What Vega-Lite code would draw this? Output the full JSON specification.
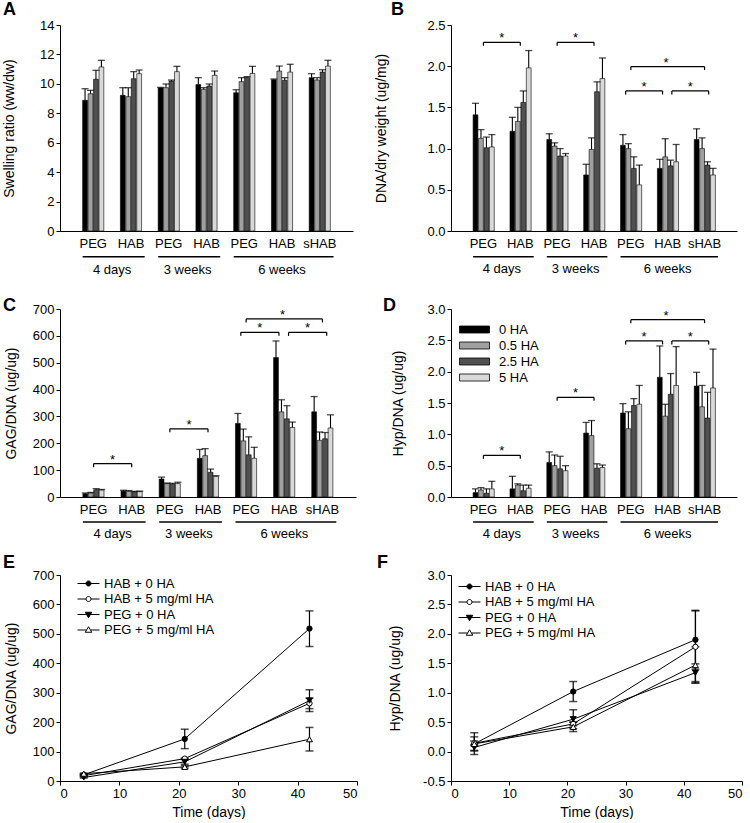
{
 "$schema": "https://vega.github.io/schema/vega-lite/v6.json",
 "padding": {"left": 2, "top": 1, "right": 0, "bottom": 0},
 "background": "white",
 "columns": 2,
 "spacing": {"row": 78, "column": 94},
 "bounds": "flush",
 "resolve": {"scale": {"fill": "independent", "shape": "independent", "stroke": "independent"}, "legend": {"fill": "independent", "shape": "independent", "stroke": "independent"}},
 "datasets": {
  "G": [
   {"g": "4 days", "a": "4 days|PEG", "b": "4 days|HAB", "k": "p"},
   {"g": "3 weeks", "a": "3 weeks|PEG", "b": "3 weeks|HAB", "k": "p"},
   {"g": "6 weeks", "a": "6 weeks|PEG", "b": "6 weeks|sHAB", "k": "T"}
  ],
  "A": [
   {"c": "4 days|PEG", "ha": "0 HA", "v": 8.88, "hi": 9.67}, {"c": "4 days|PEG", "ha": "0.5 HA", "v": 9.33, "hi": 9.56}, {"c": "4 days|PEG", "ha": "2.5 HA", "v": 10.31, "hi": 10.92}, {"c": "4 days|PEG", "ha": "5 HA", "v": 11.15, "hi": 11.6},
   {"c": "4 days|HAB", "ha": "0 HA", "v": 9.22, "hi": 9.74}, {"c": "4 days|HAB", "ha": "0.5 HA", "v": 9.13, "hi": 9.74}, {"c": "4 days|HAB", "ha": "2.5 HA", "v": 10.35, "hi": 10.83}, {"c": "4 days|HAB", "ha": "5 HA", "v": 10.69, "hi": 10.94},
   {"c": "3 weeks|PEG", "ha": "0 HA", "v": 9.72, "hi": 9.76}, {"c": "3 weeks|PEG", "ha": "0.5 HA", "v": 9.74, "hi": 9.99}, {"c": "3 weeks|PEG", "ha": "2.5 HA", "v": 10.19, "hi": 10.26}, {"c": "3 weeks|PEG", "ha": "5 HA", "v": 10.83, "hi": 11.19},
   {"c": "3 weeks|HAB", "ha": "0 HA", "v": 9.95, "hi": 10.42}, {"c": "3 weeks|HAB", "ha": "0.5 HA", "v": 9.63, "hi": 9.74}, {"c": "3 weeks|HAB", "ha": "2.5 HA", "v": 9.85, "hi": 9.99}, {"c": "3 weeks|HAB", "ha": "5 HA", "v": 10.58, "hi": 10.87},
   {"c": "6 weeks|PEG", "ha": "0 HA", "v": 9.4, "hi": 9.6}, {"c": "6 weeks|PEG", "ha": "0.5 HA", "v": 10.15, "hi": 10.42}, {"c": "6 weeks|PEG", "ha": "2.5 HA", "v": 10.44, "hi": 10.49}, {"c": "6 weeks|PEG", "ha": "5 HA", "v": 10.71, "hi": 11.19},
   {"c": "6 weeks|HAB", "ha": "0 HA", "v": 10.28, "hi": 10.33}, {"c": "6 weeks|HAB", "ha": "0.5 HA", "v": 10.87, "hi": 11.21}, {"c": "6 weeks|HAB", "ha": "2.5 HA", "v": 10.24, "hi": 10.42}, {"c": "6 weeks|HAB", "ha": "5 HA", "v": 10.8, "hi": 11.33},
   {"c": "6 weeks|sHAB", "ha": "0 HA", "v": 10.42, "hi": 10.69}, {"c": "6 weeks|sHAB", "ha": "0.5 HA", "v": 10.26, "hi": 10.42}, {"c": "6 weeks|sHAB", "ha": "2.5 HA", "v": 10.8, "hi": 10.96}, {"c": "6 weeks|sHAB", "ha": "5 HA", "v": 11.21, "hi": 11.6}
  ],
  "B": [
   {"c": "4 days|PEG", "ha": "0 HA", "v": 1.41, "hi": 1.55}, {"c": "4 days|PEG", "ha": "0.5 HA", "v": 1.125, "hi": 1.23}, {"c": "4 days|PEG", "ha": "2.5 HA", "v": 1.01, "hi": 1.14}, {"c": "4 days|PEG", "ha": "5 HA", "v": 1.02, "hi": 1.17},
   {"c": "4 days|HAB", "ha": "0 HA", "v": 1.21, "hi": 1.38}, {"c": "4 days|HAB", "ha": "0.5 HA", "v": 1.33, "hi": 1.5}, {"c": "4 days|HAB", "ha": "2.5 HA", "v": 1.56, "hi": 1.7}, {"c": "4 days|HAB", "ha": "5 HA", "v": 1.98, "hi": 2.19},
   {"c": "3 weeks|PEG", "ha": "0 HA", "v": 1.11, "hi": 1.18}, {"c": "3 weeks|PEG", "ha": "0.5 HA", "v": 1.03, "hi": 1.07}, {"c": "3 weeks|PEG", "ha": "2.5 HA", "v": 0.91, "hi": 1.0}, {"c": "3 weeks|PEG", "ha": "5 HA", "v": 0.91, "hi": 0.94},
   {"c": "3 weeks|HAB", "ha": "0 HA", "v": 0.68, "hi": 0.81}, {"c": "3 weeks|HAB", "ha": "0.5 HA", "v": 0.99, "hi": 1.13}, {"c": "3 weeks|HAB", "ha": "2.5 HA", "v": 1.69, "hi": 1.81}, {"c": "3 weeks|HAB", "ha": "5 HA", "v": 1.85, "hi": 2.1},
   {"c": "6 weeks|PEG", "ha": "0 HA", "v": 1.04, "hi": 1.17}, {"c": "6 weeks|PEG", "ha": "0.5 HA", "v": 1.0, "hi": 1.06}, {"c": "6 weeks|PEG", "ha": "2.5 HA", "v": 0.76, "hi": 0.9}, {"c": "6 weeks|PEG", "ha": "5 HA", "v": 0.56, "hi": 0.8},
   {"c": "6 weeks|HAB", "ha": "0 HA", "v": 0.76, "hi": 0.87}, {"c": "6 weeks|HAB", "ha": "0.5 HA", "v": 0.9, "hi": 1.12}, {"c": "6 weeks|HAB", "ha": "2.5 HA", "v": 0.79, "hi": 0.86}, {"c": "6 weeks|HAB", "ha": "5 HA", "v": 0.84, "hi": 1.05},
   {"c": "6 weeks|sHAB", "ha": "0 HA", "v": 1.11, "hi": 1.24}, {"c": "6 weeks|sHAB", "ha": "0.5 HA", "v": 1.0, "hi": 1.13}, {"c": "6 weeks|sHAB", "ha": "2.5 HA", "v": 0.8, "hi": 0.84}, {"c": "6 weeks|sHAB", "ha": "5 HA", "v": 0.68, "hi": 0.76}
  ],
  "C": [
   {"c": "4 days|PEG", "ha": "0 HA", "v": 12, "hi": 15}, {"c": "4 days|PEG", "ha": "0.5 HA", "v": 15, "hi": 17}, {"c": "4 days|PEG", "ha": "2.5 HA", "v": 27, "hi": 31}, {"c": "4 days|PEG", "ha": "5 HA", "v": 26, "hi": 28},
   {"c": "4 days|HAB", "ha": "0 HA", "v": 22, "hi": 25}, {"c": "4 days|HAB", "ha": "0.5 HA", "v": 21, "hi": 24}, {"c": "4 days|HAB", "ha": "2.5 HA", "v": 19, "hi": 21}, {"c": "4 days|HAB", "ha": "5 HA", "v": 20, "hi": 22},
   {"c": "3 weeks|PEG", "ha": "0 HA", "v": 67, "hi": 74}, {"c": "3 weeks|PEG", "ha": "0.5 HA", "v": 50, "hi": 52}, {"c": "3 weeks|PEG", "ha": "2.5 HA", "v": 48, "hi": 51}, {"c": "3 weeks|PEG", "ha": "5 HA", "v": 50, "hi": 55},
   {"c": "3 weeks|HAB", "ha": "0 HA", "v": 144, "hi": 177}, {"c": "3 weeks|HAB", "ha": "0.5 HA", "v": 154, "hi": 180}, {"c": "3 weeks|HAB", "ha": "2.5 HA", "v": 92, "hi": 104}, {"c": "3 weeks|HAB", "ha": "5 HA", "v": 77, "hi": 79},
   {"c": "6 weeks|PEG", "ha": "0 HA", "v": 274, "hi": 311}, {"c": "6 weeks|PEG", "ha": "0.5 HA", "v": 209, "hi": 253}, {"c": "6 weeks|PEG", "ha": "2.5 HA", "v": 157, "hi": 224}, {"c": "6 weeks|PEG", "ha": "5 HA", "v": 144, "hi": 185},
   {"c": "6 weeks|HAB", "ha": "0 HA", "v": 519, "hi": 581}, {"c": "6 weeks|HAB", "ha": "0.5 HA", "v": 317, "hi": 362}, {"c": "6 weeks|HAB", "ha": "2.5 HA", "v": 291, "hi": 340}, {"c": "6 weeks|HAB", "ha": "5 HA", "v": 259, "hi": 279},
   {"c": "6 weeks|sHAB", "ha": "0 HA", "v": 317, "hi": 374}, {"c": "6 weeks|sHAB", "ha": "0.5 HA", "v": 211, "hi": 242}, {"c": "6 weeks|sHAB", "ha": "2.5 HA", "v": 217, "hi": 240}, {"c": "6 weeks|sHAB", "ha": "5 HA", "v": 257, "hi": 306}
  ],
  "D": [
   {"c": "4 days|PEG", "ha": "0 HA", "v": 0.07, "hi": 0.13}, {"c": "4 days|PEG", "ha": "0.5 HA", "v": 0.11, "hi": 0.15}, {"c": "4 days|PEG", "ha": "2.5 HA", "v": 0.06, "hi": 0.13}, {"c": "4 days|PEG", "ha": "5 HA", "v": 0.13, "hi": 0.25},
   {"c": "4 days|HAB", "ha": "0 HA", "v": 0.13, "hi": 0.33}, {"c": "4 days|HAB", "ha": "0.5 HA", "v": 0.19, "hi": 0.21}, {"c": "4 days|HAB", "ha": "2.5 HA", "v": 0.1, "hi": 0.19}, {"c": "4 days|HAB", "ha": "5 HA", "v": 0.14, "hi": 0.19},
   {"c": "3 weeks|PEG", "ha": "0 HA", "v": 0.55, "hi": 0.72}, {"c": "3 weeks|PEG", "ha": "0.5 HA", "v": 0.5, "hi": 0.67}, {"c": "3 weeks|PEG", "ha": "2.5 HA", "v": 0.45, "hi": 0.65}, {"c": "3 weeks|PEG", "ha": "5 HA", "v": 0.42, "hi": 0.5},
   {"c": "3 weeks|HAB", "ha": "0 HA", "v": 1.02, "hi": 1.19}, {"c": "3 weeks|HAB", "ha": "0.5 HA", "v": 0.98, "hi": 1.22}, {"c": "3 weeks|HAB", "ha": "2.5 HA", "v": 0.46, "hi": 0.53}, {"c": "3 weeks|HAB", "ha": "5 HA", "v": 0.47, "hi": 0.51},
   {"c": "6 weeks|PEG", "ha": "0 HA", "v": 1.34, "hi": 1.49}, {"c": "6 weeks|PEG", "ha": "0.5 HA", "v": 1.09, "hi": 1.36}, {"c": "6 weeks|PEG", "ha": "2.5 HA", "v": 1.46, "hi": 1.57}, {"c": "6 weeks|PEG", "ha": "5 HA", "v": 1.48, "hi": 1.78},
   {"c": "6 weeks|HAB", "ha": "0 HA", "v": 1.91, "hi": 2.41}, {"c": "6 weeks|HAB", "ha": "0.5 HA", "v": 1.29, "hi": 1.48}, {"c": "6 weeks|HAB", "ha": "2.5 HA", "v": 1.64, "hi": 1.97}, {"c": "6 weeks|HAB", "ha": "5 HA", "v": 1.78, "hi": 2.4},
   {"c": "6 weeks|sHAB", "ha": "0 HA", "v": 1.77, "hi": 1.99}, {"c": "6 weeks|sHAB", "ha": "0.5 HA", "v": 1.44, "hi": 1.78}, {"c": "6 weeks|sHAB", "ha": "2.5 HA", "v": 1.26, "hi": 1.67}, {"c": "6 weeks|sHAB", "ha": "5 HA", "v": 1.74, "hi": 2.36}
  ],
  "brB": [
   {"a": "4 days|PEG", "b": "4 days|HAB", "lv": 2.29, "k": "p"},
   {"a": "3 weeks|PEG", "b": "3 weeks|HAB", "lv": 2.29, "k": "p"},
   {"a": "6 weeks|PEG", "b": "6 weeks|sHAB", "lv": 1.995, "k": "T"},
   {"a": "6 weeks|PEG", "b": "6 weeks|HAB", "lv": 1.7, "k": "L"},
   {"a": "6 weeks|HAB", "b": "6 weeks|sHAB", "lv": 1.7, "k": "R"}
  ],
  "brC": [
   {"a": "4 days|PEG", "b": "4 days|HAB", "lv": 124, "k": "p"},
   {"a": "3 weeks|PEG", "b": "3 weeks|HAB", "lv": 254, "k": "p"},
   {"a": "6 weeks|PEG", "b": "6 weeks|sHAB", "lv": 663, "k": "T"},
   {"a": "6 weeks|PEG", "b": "6 weeks|HAB", "lv": 613, "k": "L"},
   {"a": "6 weeks|HAB", "b": "6 weeks|sHAB", "lv": 613, "k": "R"}
  ],
  "brD": [
   {"a": "4 days|PEG", "b": "4 days|HAB", "lv": 0.665, "k": "p"},
   {"a": "3 weeks|PEG", "b": "3 weeks|HAB", "lv": 1.59, "k": "p"},
   {"a": "6 weeks|PEG", "b": "6 weeks|sHAB", "lv": 2.83, "k": "T"},
   {"a": "6 weeks|PEG", "b": "6 weeks|HAB", "lv": 2.49, "k": "L"},
   {"a": "6 weeks|HAB", "b": "6 weeks|sHAB", "lv": 2.49, "k": "R"}
  ],
  "E": [
   {"s": "HAB + 0 HA", "d": 4, "v": 21, "lo": 19, "hi": 23}, {"s": "HAB + 0 HA", "d": 21, "v": 143, "lo": 110, "hi": 176}, {"s": "HAB + 0 HA", "d": 42, "v": 518, "lo": 457, "hi": 578},
   {"s": "HAB + 5 mg/ml HA", "d": 4, "v": 18, "lo": 16, "hi": 20}, {"s": "HAB + 5 mg/ml HA", "d": 21, "v": 76, "lo": 74, "hi": 78}, {"s": "HAB + 5 mg/ml HA", "d": 42, "v": 264, "lo": 246, "hi": 282},
   {"s": "PEG + 0 HA", "d": 4, "v": 12, "lo": 10, "hi": 14}, {"s": "PEG + 0 HA", "d": 21, "v": 65, "lo": 57, "hi": 73}, {"s": "PEG + 0 HA", "d": 42, "v": 273, "lo": 236, "hi": 310},
   {"s": "PEG + 5 mg/ml HA", "d": 4, "v": 25, "lo": 23, "hi": 27}, {"s": "PEG + 5 mg/ml HA", "d": 21, "v": 48, "lo": 44, "hi": 52}, {"s": "PEG + 5 mg/ml HA", "d": 42, "v": 142, "lo": 102, "hi": 182}
  ],
  "F": [
   {"s": "HAB + 0 HA", "d": 4, "v": 0.13, "lo": -0.05, "hi": 0.32}, {"s": "HAB + 0 HA", "d": 21, "v": 1.02, "lo": 0.85, "hi": 1.19}, {"s": "HAB + 0 HA", "d": 42, "v": 1.9, "lo": 1.4, "hi": 2.4},
   {"s": "HAB + 5 mg/ml HA", "d": 4, "v": 0.14, "lo": 0.1, "hi": 0.18}, {"s": "HAB + 5 mg/ml HA", "d": 21, "v": 0.47, "lo": 0.44, "hi": 0.5}, {"s": "HAB + 5 mg/ml HA", "d": 42, "v": 1.78, "lo": 1.17, "hi": 2.39},
   {"s": "PEG + 0 HA", "d": 4, "v": 0.07, "lo": 0.02, "hi": 0.12}, {"s": "PEG + 0 HA", "d": 21, "v": 0.55, "lo": 0.39, "hi": 0.71}, {"s": "PEG + 0 HA", "d": 42, "v": 1.34, "lo": 1.19, "hi": 1.49},
   {"s": "PEG + 5 mg/ml HA", "d": 4, "v": 0.13, "lo": 0.01, "hi": 0.25}, {"s": "PEG + 5 mg/ml HA", "d": 21, "v": 0.42, "lo": 0.34, "hi": 0.5}, {"s": "PEG + 5 mg/ml HA", "d": 42, "v": 1.47, "lo": 1.16, "hi": 1.78}
  ]
 },
 "concat": [
  {
   "width": 293, "height": 206,
   "title": {"text": "A", "anchor": "start", "frame": "group", "dx": -57, "offset": -14, "baseline": "alphabetic", "fontSize": 18, "fontWeight": "bold"},
   "layer": [
    {"data": {"name": "A"}, "mark": {"type": "bar", "stroke": "black", "strokeWidth": 0.6},
     "encoding": {
      "x": {"field": "c", "type": "nominal", "title": null, "scale": {"domain": ["4 days|PEG","4 days|HAB","3 weeks|PEG","3 weeks|HAB","6 weeks|PEG","6 weeks|HAB","6 weeks|sHAB"], "paddingInner": 0.44, "paddingOuter": 0.6}, "axis": {"labelExpr": "split(datum.label,'|')[1]", "ticks": false, "labelAngle": 0, "labelPadding": 6}},
      "xOffset": {"field": "ha", "type": "nominal", "scale": {"domain": ["0 HA","0.5 HA","2.5 HA","5 HA"], "paddingInner": 0.12}},
      "y": {"field": "v", "type": "quantitative", "title": "Swelling ratio (ww/dw)", "scale": {"domain": [0, 14], "nice": false}, "axis": {"values": [0,2,4,6,8,10,12,14], "tickCount": 20, "format": "d", "titlePadding": 23, "labelOverlap": false}},
      "fill": {"field": "ha", "type": "nominal", "scale": {"domain": ["0 HA","0.5 HA","2.5 HA","5 HA"], "range": ["#000000","#a0a0a0","#505050","#d9d9d9"]}, "legend": null}
     }},
    {"data": {"name": "A"}, "mark": {"type": "rule", "color": "black", "strokeWidth": 1.1},
     "encoding": {"x": {"field": "c", "type": "nominal", "title": null}, "xOffset": {"field": "ha", "type": "nominal"}, "y": {"field": "v", "type": "quantitative"}, "y2": {"field": "hi"}}},
    {"data": {"name": "A"}, "mark": {"type": "tick", "orient": "horizontal", "size": 7, "thickness": 1.3, "color": "black"},
     "encoding": {"x": {"field": "c", "type": "nominal", "title": null}, "xOffset": {"field": "ha", "type": "nominal"}, "y": {"field": "hi", "type": "quantitative"}}},
    {"data": {"name": "G"}, "mark": {"type": "rule", "color": "black", "strokeWidth": 1.5},
     "encoding": {"x": {"field": "a", "type": "nominal", "bandPosition": 0, "title": null}, "x2": {"field": "b", "bandPosition": 1.15}, "y": {"datum": -1.75}}},
    {"data": {"name": "G"}, "transform": [{"filter": "datum.k=='p'"}], "mark": {"type": "text", "fontSize": 13, "baseline": "middle"},
     "encoding": {"x": {"field": "a", "type": "nominal", "bandPosition": 1.393, "title": null}, "y": {"datum": -2.62}, "text": {"field": "g"}}},
    {"data": {"name": "G"}, "transform": [{"filter": "datum.k=='T'"}], "mark": {"type": "text", "fontSize": 13, "baseline": "middle"},
     "encoding": {"x": {"field": "a", "type": "nominal", "bandPosition": 2.286, "title": null}, "y": {"datum": -2.62}, "text": {"field": "g"}}}
   ]
  },
  {
   "width": 286, "height": 206,
   "title": {"text": "B", "anchor": "start", "frame": "group", "dx": -60, "offset": -14, "baseline": "alphabetic", "fontSize": 18, "fontWeight": "bold"},
   "layer": [
    {"data": {"name": "B"}, "mark": {"type": "bar", "stroke": "black", "strokeWidth": 0.6},
     "encoding": {
      "x": {"field": "c", "type": "nominal", "title": null, "scale": {"domain": ["4 days|PEG","4 days|HAB","3 weeks|PEG","3 weeks|HAB","6 weeks|PEG","6 weeks|HAB","6 weeks|sHAB"], "paddingInner": 0.44, "paddingOuter": 0.6}, "axis": {"labelExpr": "split(datum.label,'|')[1]", "ticks": false, "labelAngle": 0, "labelPadding": 6}},
      "xOffset": {"field": "ha", "type": "nominal", "scale": {"domain": ["0 HA","0.5 HA","2.5 HA","5 HA"], "paddingInner": 0.12}},
      "y": {"field": "v", "type": "quantitative", "title": "DNA/dry weight (ug/mg)", "scale": {"domain": [0, 2.5], "nice": false}, "axis": {"values": [0,0.5,1,1.5,2,2.5], "tickCount": 20, "format": ".1f", "titlePadding": 38, "labelOverlap": false}},
      "fill": {"field": "ha", "type": "nominal", "scale": {"domain": ["0 HA","0.5 HA","2.5 HA","5 HA"], "range": ["#000000","#a0a0a0","#505050","#d9d9d9"]}, "legend": null}
     }},
    {"data": {"name": "B"}, "mark": {"type": "rule", "color": "black", "strokeWidth": 1.1},
     "encoding": {"x": {"field": "c", "type": "nominal", "title": null}, "xOffset": {"field": "ha", "type": "nominal"}, "y": {"field": "v", "type": "quantitative"}, "y2": {"field": "hi"}}},
    {"data": {"name": "B"}, "mark": {"type": "tick", "orient": "horizontal", "size": 7, "thickness": 1.3, "color": "black"},
     "encoding": {"x": {"field": "c", "type": "nominal", "title": null}, "xOffset": {"field": "ha", "type": "nominal"}, "y": {"field": "hi", "type": "quantitative"}}},
    {"data": {"name": "G"}, "mark": {"type": "rule", "color": "black", "strokeWidth": 1.5},
     "encoding": {"x": {"field": "a", "type": "nominal", "bandPosition": 0, "title": null}, "x2": {"field": "b", "bandPosition": 1.15}, "y": {"datum": -0.312}}},
    {"data": {"name": "G"}, "transform": [{"filter": "datum.k=='p'"}], "mark": {"type": "text", "fontSize": 13, "baseline": "middle"},
     "encoding": {"x": {"field": "a", "type": "nominal", "bandPosition": 1.393, "title": null}, "y": {"datum": -0.467}, "text": {"field": "g"}}},
    {"data": {"name": "G"}, "transform": [{"filter": "datum.k=='T'"}], "mark": {"type": "text", "fontSize": 13, "baseline": "middle"},
     "encoding": {"x": {"field": "a", "type": "nominal", "bandPosition": 2.286, "title": null}, "y": {"datum": -0.467}, "text": {"field": "g"}}},
    {"data": {"name": "brB"}, "transform": [{"filter": "datum.k=='p'||datum.k=='T'"}], "mark": {"type": "rule", "color": "black", "strokeWidth": 1.2},
     "encoding": {"x": {"field": "a", "type": "nominal", "bandPosition": 0.5, "title": null}, "x2": {"field": "b", "bandPosition": 0.5}, "y": {"field": "lv", "type": "quantitative"}}},
    {"data": {"name": "brB"}, "transform": [{"filter": "datum.k=='L'"}], "mark": {"type": "rule", "color": "black", "strokeWidth": 1.2},
     "encoding": {"x": {"field": "a", "type": "nominal", "bandPosition": 0.25, "title": null}, "x2": {"field": "b", "bandPosition": 0.25}, "y": {"field": "lv", "type": "quantitative"}}},
    {"data": {"name": "brB"}, "transform": [{"filter": "datum.k=='R'"}], "mark": {"type": "rule", "color": "black", "strokeWidth": 1.2},
     "encoding": {"x": {"field": "a", "type": "nominal", "bandPosition": 0.7, "title": null}, "x2": {"field": "b", "bandPosition": 0.7}, "y": {"field": "lv", "type": "quantitative"}}},
    {"data": {"name": "brB"}, "transform": [{"filter": "datum.k=='p'||datum.k=='T'"}, {"fold": ["a", "b"], "as": ["e", "cat"]}], "mark": {"type": "rule", "color": "black", "strokeWidth": 1.2, "y2Offset": 3.5},
     "encoding": {"x": {"field": "cat", "type": "nominal", "bandPosition": 0.5, "title": null}, "y": {"field": "lv", "type": "quantitative"}, "y2": {"field": "lv"}}},
    {"data": {"name": "brB"}, "transform": [{"filter": "datum.k=='L'"}, {"fold": ["a", "b"], "as": ["e", "cat"]}], "mark": {"type": "rule", "color": "black", "strokeWidth": 1.2, "y2Offset": 3.5},
     "encoding": {"x": {"field": "cat", "type": "nominal", "bandPosition": 0.25, "title": null}, "y": {"field": "lv", "type": "quantitative"}, "y2": {"field": "lv"}}},
    {"data": {"name": "brB"}, "transform": [{"filter": "datum.k=='R'"}, {"fold": ["a", "b"], "as": ["e", "cat"]}], "mark": {"type": "rule", "color": "black", "strokeWidth": 1.2, "y2Offset": 3.5},
     "encoding": {"x": {"field": "cat", "type": "nominal", "bandPosition": 0.7, "title": null}, "y": {"field": "lv", "type": "quantitative"}, "y2": {"field": "lv"}}},
    {"data": {"name": "brB"}, "transform": [{"filter": "datum.k=='p'"}], "mark": {"type": "text", "text": "*", "fontSize": 13, "baseline": "alphabetic"},
     "encoding": {"x": {"field": "a", "type": "nominal", "bandPosition": 1.393, "title": null}, "y": {"field": "lv", "type": "quantitative"}}},
    {"data": {"name": "brB"}, "transform": [{"filter": "datum.k=='T'"}], "mark": {"type": "text", "text": "*", "fontSize": 13, "baseline": "alphabetic"},
     "encoding": {"x": {"field": "a", "type": "nominal", "bandPosition": 2.2, "title": null}, "y": {"field": "lv", "type": "quantitative"}}},
    {"data": {"name": "brB"}, "transform": [{"filter": "datum.k=='L'"}], "mark": {"type": "text", "text": "*", "fontSize": 13, "baseline": "alphabetic"},
     "encoding": {"x": {"field": "a", "type": "nominal", "bandPosition": 1.143, "title": null}, "y": {"field": "lv", "type": "quantitative"}}},
    {"data": {"name": "brB"}, "transform": [{"filter": "datum.k=='R'"}], "mark": {"type": "text", "text": "*", "fontSize": 13, "baseline": "alphabetic"},
     "encoding": {"x": {"field": "a", "type": "nominal", "bandPosition": 1.593, "title": null}, "y": {"field": "lv", "type": "quantitative"}}}
   ]
  },
  {
   "width": 296, "height": 188,
   "title": {"text": "C", "anchor": "start", "frame": "group", "dx": -57, "offset": -25.5, "baseline": "alphabetic", "fontSize": 18, "fontWeight": "bold"},
   "layer": [
    {"data": {"name": "C"}, "mark": {"type": "bar", "stroke": "black", "strokeWidth": 0.6},
     "encoding": {
      "x": {"field": "c", "type": "nominal", "title": null, "scale": {"domain": ["4 days|PEG","4 days|HAB","3 weeks|PEG","3 weeks|HAB","6 weeks|PEG","6 weeks|HAB","6 weeks|sHAB"], "paddingInner": 0.44, "paddingOuter": 0.6}, "axis": {"labelExpr": "split(datum.label,'|')[1]", "ticks": false, "labelAngle": 0, "labelPadding": 6}},
      "xOffset": {"field": "ha", "type": "nominal", "scale": {"domain": ["0 HA","0.5 HA","2.5 HA","5 HA"], "paddingInner": 0.12}},
      "y": {"field": "v", "type": "quantitative", "title": "GAG/DNA (ug/ug)", "scale": {"domain": [0, 700], "nice": false}, "axis": {"values": [0,100,200,300,400,500,600,700], "tickCount": 20, "format": "d", "titlePadding": 14, "labelOverlap": false}},
      "fill": {"field": "ha", "type": "nominal", "scale": {"domain": ["0 HA","0.5 HA","2.5 HA","5 HA"], "range": ["#000000","#a0a0a0","#505050","#d9d9d9"]}, "legend": null}
     }},
    {"data": {"name": "C"}, "mark": {"type": "rule", "color": "black", "strokeWidth": 1.1},
     "encoding": {"x": {"field": "c", "type": "nominal", "title": null}, "xOffset": {"field": "ha", "type": "nominal"}, "y": {"field": "v", "type": "quantitative"}, "y2": {"field": "hi"}}},
    {"data": {"name": "C"}, "mark": {"type": "tick", "orient": "horizontal", "size": 7, "thickness": 1.3, "color": "black"},
     "encoding": {"x": {"field": "c", "type": "nominal", "title": null}, "xOffset": {"field": "ha", "type": "nominal"}, "y": {"field": "hi", "type": "quantitative"}}},
    {"data": {"name": "G"}, "mark": {"type": "rule", "color": "black", "strokeWidth": 1.5},
     "encoding": {"x": {"field": "a", "type": "nominal", "bandPosition": 0, "title": null}, "x2": {"field": "b", "bandPosition": 1.15}, "y": {"datum": -93}}},
    {"data": {"name": "G"}, "transform": [{"filter": "datum.k=='p'"}], "mark": {"type": "text", "fontSize": 13, "baseline": "middle"},
     "encoding": {"x": {"field": "a", "type": "nominal", "bandPosition": 1.393, "title": null}, "y": {"datum": -138}, "text": {"field": "g"}}},
    {"data": {"name": "G"}, "transform": [{"filter": "datum.k=='T'"}], "mark": {"type": "text", "fontSize": 13, "baseline": "middle"},
     "encoding": {"x": {"field": "a", "type": "nominal", "bandPosition": 2.286, "title": null}, "y": {"datum": -138}, "text": {"field": "g"}}},
    {"data": {"name": "brC"}, "transform": [{"filter": "datum.k=='p'||datum.k=='T'"}], "mark": {"type": "rule", "color": "black", "strokeWidth": 1.2},
     "encoding": {"x": {"field": "a", "type": "nominal", "bandPosition": 0.5, "title": null}, "x2": {"field": "b", "bandPosition": 0.5}, "y": {"field": "lv", "type": "quantitative"}}},
    {"data": {"name": "brC"}, "transform": [{"filter": "datum.k=='L'"}], "mark": {"type": "rule", "color": "black", "strokeWidth": 1.2},
     "encoding": {"x": {"field": "a", "type": "nominal", "bandPosition": 0.25, "title": null}, "x2": {"field": "b", "bandPosition": 0.25}, "y": {"field": "lv", "type": "quantitative"}}},
    {"data": {"name": "brC"}, "transform": [{"filter": "datum.k=='R'"}], "mark": {"type": "rule", "color": "black", "strokeWidth": 1.2},
     "encoding": {"x": {"field": "a", "type": "nominal", "bandPosition": 0.7, "title": null}, "x2": {"field": "b", "bandPosition": 0.7}, "y": {"field": "lv", "type": "quantitative"}}},
    {"data": {"name": "brC"}, "transform": [{"filter": "datum.k=='p'||datum.k=='T'"}, {"fold": ["a", "b"], "as": ["e", "cat"]}], "mark": {"type": "rule", "color": "black", "strokeWidth": 1.2, "y2Offset": 3.5},
     "encoding": {"x": {"field": "cat", "type": "nominal", "bandPosition": 0.5, "title": null}, "y": {"field": "lv", "type": "quantitative"}, "y2": {"field": "lv"}}},
    {"data": {"name": "brC"}, "transform": [{"filter": "datum.k=='L'"}, {"fold": ["a", "b"], "as": ["e", "cat"]}], "mark": {"type": "rule", "color": "black", "strokeWidth": 1.2, "y2Offset": 3.5},
     "encoding": {"x": {"field": "cat", "type": "nominal", "bandPosition": 0.25, "title": null}, "y": {"field": "lv", "type": "quantitative"}, "y2": {"field": "lv"}}},
    {"data": {"name": "brC"}, "transform": [{"filter": "datum.k=='R'"}, {"fold": ["a", "b"], "as": ["e", "cat"]}], "mark": {"type": "rule", "color": "black", "strokeWidth": 1.2, "y2Offset": 3.5},
     "encoding": {"x": {"field": "cat", "type": "nominal", "bandPosition": 0.7, "title": null}, "y": {"field": "lv", "type": "quantitative"}, "y2": {"field": "lv"}}},
    {"data": {"name": "brC"}, "transform": [{"filter": "datum.k=='p'"}], "mark": {"type": "text", "text": "*", "fontSize": 13, "baseline": "alphabetic"},
     "encoding": {"x": {"field": "a", "type": "nominal", "bandPosition": 1.393, "title": null}, "y": {"field": "lv", "type": "quantitative"}}},
    {"data": {"name": "brC"}, "transform": [{"filter": "datum.k=='T'"}], "mark": {"type": "text", "text": "*", "fontSize": 13, "baseline": "alphabetic"},
     "encoding": {"x": {"field": "a", "type": "nominal", "bandPosition": 2.2, "title": null}, "y": {"field": "lv", "type": "quantitative"}}},
    {"data": {"name": "brC"}, "transform": [{"filter": "datum.k=='L'"}], "mark": {"type": "text", "text": "*", "fontSize": 13, "baseline": "alphabetic"},
     "encoding": {"x": {"field": "a", "type": "nominal", "bandPosition": 1.143, "title": null}, "y": {"field": "lv", "type": "quantitative"}}},
    {"data": {"name": "brC"}, "transform": [{"filter": "datum.k=='R'"}], "mark": {"type": "text", "text": "*", "fontSize": 13, "baseline": "alphabetic"},
     "encoding": {"x": {"field": "a", "type": "nominal", "bandPosition": 1.593, "title": null}, "y": {"field": "lv", "type": "quantitative"}}}
   ]
  },
  {
   "width": 286, "height": 188,
   "title": {"text": "D", "anchor": "start", "frame": "group", "dx": -68, "offset": -25.5, "baseline": "alphabetic", "fontSize": 18, "fontWeight": "bold"},
   "layer": [
    {"data": {"name": "D"}, "mark": {"type": "bar", "stroke": "black", "strokeWidth": 0.6},
     "encoding": {
      "x": {"field": "c", "type": "nominal", "title": null, "scale": {"domain": ["4 days|PEG","4 days|HAB","3 weeks|PEG","3 weeks|HAB","6 weeks|PEG","6 weeks|HAB","6 weeks|sHAB"], "paddingInner": 0.44, "paddingOuter": 0.6}, "axis": {"labelExpr": "split(datum.label,'|')[1]", "ticks": false, "labelAngle": 0, "labelPadding": 6}},
      "xOffset": {"field": "ha", "type": "nominal", "scale": {"domain": ["0 HA","0.5 HA","2.5 HA","5 HA"], "paddingInner": 0.12}},
      "y": {"field": "v", "type": "quantitative", "title": "Hyp/DNA (ug/ug)", "scale": {"domain": [0, 3], "nice": false}, "axis": {"values": [0,0.5,1,1.5,2,2.5,3], "tickCount": 20, "format": ".1f", "titlePadding": 21, "labelOverlap": false}},
      "fill": {"field": "ha", "type": "nominal", "scale": {"domain": ["0 HA","0.5 HA","2.5 HA","5 HA"], "range": ["#000000","#a0a0a0","#505050","#d9d9d9"]},
        "legend": {"title": null, "orient": "none", "legendX": 17, "legendY": 14, "symbolType": "M-3,-0.7H3V0.7H-3Z", "symbolSize": 100, "symbolStrokeColor": "black", "symbolStrokeWidth": 0.8, "labelFontSize": 13, "labelColor": "black", "labelOffset": 18, "rowPadding": 2, "padding": 0}}
     }},
    {"data": {"name": "D"}, "mark": {"type": "rule", "color": "black", "strokeWidth": 1.1},
     "encoding": {"x": {"field": "c", "type": "nominal", "title": null}, "xOffset": {"field": "ha", "type": "nominal"}, "y": {"field": "v", "type": "quantitative"}, "y2": {"field": "hi"}}},
    {"data": {"name": "D"}, "mark": {"type": "tick", "orient": "horizontal", "size": 7, "thickness": 1.3, "color": "black"},
     "encoding": {"x": {"field": "c", "type": "nominal", "title": null}, "xOffset": {"field": "ha", "type": "nominal"}, "y": {"field": "hi", "type": "quantitative"}}},
    {"data": {"name": "G"}, "mark": {"type": "rule", "color": "black", "strokeWidth": 1.5},
     "encoding": {"x": {"field": "a", "type": "nominal", "bandPosition": 0, "title": null}, "x2": {"field": "b", "bandPosition": 1.15}, "y": {"datum": -0.4}}},
    {"data": {"name": "G"}, "transform": [{"filter": "datum.k=='p'"}], "mark": {"type": "text", "fontSize": 13, "baseline": "middle"},
     "encoding": {"x": {"field": "a", "type": "nominal", "bandPosition": 1.393, "title": null}, "y": {"datum": -0.59}, "text": {"field": "g"}}},
    {"data": {"name": "G"}, "transform": [{"filter": "datum.k=='T'"}], "mark": {"type": "text", "fontSize": 13, "baseline": "middle"},
     "encoding": {"x": {"field": "a", "type": "nominal", "bandPosition": 2.286, "title": null}, "y": {"datum": -0.59}, "text": {"field": "g"}}},
    {"data": {"name": "brD"}, "transform": [{"filter": "datum.k=='p'||datum.k=='T'"}], "mark": {"type": "rule", "color": "black", "strokeWidth": 1.2},
     "encoding": {"x": {"field": "a", "type": "nominal", "bandPosition": 0.5, "title": null}, "x2": {"field": "b", "bandPosition": 0.5}, "y": {"field": "lv", "type": "quantitative"}}},
    {"data": {"name": "brD"}, "transform": [{"filter": "datum.k=='L'"}], "mark": {"type": "rule", "color": "black", "strokeWidth": 1.2},
     "encoding": {"x": {"field": "a", "type": "nominal", "bandPosition": 0.25, "title": null}, "x2": {"field": "b", "bandPosition": 0.25}, "y": {"field": "lv", "type": "quantitative"}}},
    {"data": {"name": "brD"}, "transform": [{"filter": "datum.k=='R'"}], "mark": {"type": "rule", "color": "black", "strokeWidth": 1.2},
     "encoding": {"x": {"field": "a", "type": "nominal", "bandPosition": 0.7, "title": null}, "x2": {"field": "b", "bandPosition": 0.7}, "y": {"field": "lv", "type": "quantitative"}}},
    {"data": {"name": "brD"}, "transform": [{"filter": "datum.k=='p'||datum.k=='T'"}, {"fold": ["a", "b"], "as": ["e", "cat"]}], "mark": {"type": "rule", "color": "black", "strokeWidth": 1.2, "y2Offset": 3.5},
     "encoding": {"x": {"field": "cat", "type": "nominal", "bandPosition": 0.5, "title": null}, "y": {"field": "lv", "type": "quantitative"}, "y2": {"field": "lv"}}},
    {"data": {"name": "brD"}, "transform": [{"filter": "datum.k=='L'"}, {"fold": ["a", "b"], "as": ["e", "cat"]}], "mark": {"type": "rule", "color": "black", "strokeWidth": 1.2, "y2Offset": 3.5},
     "encoding": {"x": {"field": "cat", "type": "nominal", "bandPosition": 0.25, "title": null}, "y": {"field": "lv", "type": "quantitative"}, "y2": {"field": "lv"}}},
    {"data": {"name": "brD"}, "transform": [{"filter": "datum.k=='R'"}, {"fold": ["a", "b"], "as": ["e", "cat"]}], "mark": {"type": "rule", "color": "black", "strokeWidth": 1.2, "y2Offset": 3.5},
     "encoding": {"x": {"field": "cat", "type": "nominal", "bandPosition": 0.7, "title": null}, "y": {"field": "lv", "type": "quantitative"}, "y2": {"field": "lv"}}},
    {"data": {"name": "brD"}, "transform": [{"filter": "datum.k=='p'"}], "mark": {"type": "text", "text": "*", "fontSize": 13, "baseline": "alphabetic"},
     "encoding": {"x": {"field": "a", "type": "nominal", "bandPosition": 1.393, "title": null}, "y": {"field": "lv", "type": "quantitative"}}},
    {"data": {"name": "brD"}, "transform": [{"filter": "datum.k=='T'"}], "mark": {"type": "text", "text": "*", "fontSize": 13, "baseline": "alphabetic"},
     "encoding": {"x": {"field": "a", "type": "nominal", "bandPosition": 2.2, "title": null}, "y": {"field": "lv", "type": "quantitative"}}},
    {"data": {"name": "brD"}, "transform": [{"filter": "datum.k=='L'"}], "mark": {"type": "text", "text": "*", "fontSize": 13, "baseline": "alphabetic"},
     "encoding": {"x": {"field": "a", "type": "nominal", "bandPosition": 1.143, "title": null}, "y": {"field": "lv", "type": "quantitative"}}},
    {"data": {"name": "brD"}, "transform": [{"filter": "datum.k=='R'"}], "mark": {"type": "text", "text": "*", "fontSize": 13, "baseline": "alphabetic"},
     "encoding": {"x": {"field": "a", "type": "nominal", "bandPosition": 1.593, "title": null}, "y": {"field": "lv", "type": "quantitative"}}}
   ]
  },
  {
   "width": 297, "height": 206,
   "title": {"text": "E", "anchor": "start", "frame": "group", "dx": -57, "offset": -16.5, "baseline": "alphabetic", "fontSize": 18, "fontWeight": "bold"},
   "layer": [
    {"data": {"name": "E"}, "mark": {"type": "line", "color": "black", "strokeWidth": 1},
     "encoding": {
      "x": {"field": "d", "type": "quantitative", "title": "Time (days)", "scale": {"domain": [0, 50], "nice": false}, "axis": {"values": [0,10,20,30,40,50], "tickCount": 20, "format": "d", "titlePadding": 5, "labelOverlap": false}},
      "y": {"field": "v", "type": "quantitative", "title": "GAG/DNA (ug/ug)", "scale": {"domain": [0, 700], "nice": false}, "axis": {"values": [0,100,200,300,400,500,600,700], "tickCount": 20, "format": "d", "titlePadding": 14, "labelOverlap": false}},
      "detail": {"field": "s"}
     }},
    {"data": {"name": "E"}, "mark": {"type": "rule", "color": "black", "strokeWidth": 1.2},
     "encoding": {"x": {"field": "d", "type": "quantitative"}, "y": {"field": "lo", "type": "quantitative"}, "y2": {"field": "hi"}}},
    {"data": {"name": "E"}, "transform": [{"fold": ["lo", "hi"], "as": ["e", "ev"]}], "mark": {"type": "tick", "orient": "horizontal", "size": 8, "thickness": 1.5, "color": "black"},
     "encoding": {"x": {"field": "d", "type": "quantitative"}, "y": {"field": "ev", "type": "quantitative"}}},
    {"data": {"name": "E"}, "transform": [{"filter": "datum.s=='HAB + 0 HA'"}], "mark": {"type": "point", "shape": "circle", "filled": true, "fill": "black", "stroke": "black", "strokeWidth": 1, "opacity": 1, "size": 28},
     "encoding": {"x": {"field": "d", "type": "quantitative"}, "y": {"field": "v", "type": "quantitative"}}},
    {"data": {"name": "E"}, "transform": [{"filter": "datum.s=='HAB + 5 mg/ml HA'"}], "mark": {"type": "point", "shape": "circle", "filled": true, "fill": "white", "stroke": "black", "strokeWidth": 1, "opacity": 1, "size": 28},
     "encoding": {"x": {"field": "d", "type": "quantitative"}, "y": {"field": "v", "type": "quantitative"}}},
    {"data": {"name": "E"}, "transform": [{"filter": "datum.s=='PEG + 0 HA'"}], "mark": {"type": "point", "shape": "triangle-down", "filled": true, "fill": "black", "stroke": "black", "strokeWidth": 1, "opacity": 1, "size": 36},
     "encoding": {"x": {"field": "d", "type": "quantitative"}, "y": {"field": "v", "type": "quantitative"}}},
    {"data": {"name": "E"}, "transform": [{"filter": "datum.s=='PEG + 5 mg/ml HA'"}], "mark": {"type": "point", "shape": "triangle-up", "filled": true, "fill": "white", "stroke": "black", "strokeWidth": 1, "opacity": 1, "size": 36},
     "encoding": {"x": {"field": "d", "type": "quantitative"}, "y": {"field": "v", "type": "quantitative"}}},
    {"data": {"name": "E"}, "transform": [{"filter": "false"}], "mark": {"type": "point", "filled": true, "opacity": 1},
     "encoding": {
      "x": {"field": "d", "type": "quantitative"},
      "y": {"field": "v", "type": "quantitative"},
      "shape": {"field": "s", "type": "nominal", "scale": {"domain": ["HAB + 0 HA","HAB + 5 mg/ml HA","PEG + 0 HA","PEG + 5 mg/ml HA"], "range": ["M-2.2,0H2.2M0.5,0A0.5,0.5,0,1,1,-0.5,0A0.5,0.5,0,1,1,0.5,0Z","M-2.2,0H-0.5M0.5,0H2.2M0.5,0A0.5,0.5,0,1,1,-0.5,0A0.5,0.5,0,1,1,0.5,0Z","M-2.2,0H2.2M-0.65,-0.45H0.65L0,0.65Z","M-2.2,0H-0.45M0.45,0H2.2M-0.65,0.45H0.65L0,-0.65Z"]},
        "legend": {"title": null, "orient": "none", "legendX": 22, "legendY": 2, "symbolSize": 100, "symbolStrokeWidth": 1, "labelFontSize": 13, "labelColor": "black", "labelOffset": 9, "rowPadding": 1.5, "padding": 0}},
      "fill": {"field": "s", "type": "nominal", "scale": {"domain": ["HAB + 0 HA","HAB + 5 mg/ml HA","PEG + 0 HA","PEG + 5 mg/ml HA"], "range": ["black","white","black","white"]},
        "legend": {"title": null, "orient": "none", "legendX": 22, "legendY": 2, "symbolSize": 100, "symbolStrokeWidth": 1, "labelFontSize": 13, "labelColor": "black", "labelOffset": 9, "rowPadding": 1.5, "padding": 0}},
      "stroke": {"field": "s", "type": "nominal", "scale": {"domain": ["HAB + 0 HA","HAB + 5 mg/ml HA","PEG + 0 HA","PEG + 5 mg/ml HA"], "range": ["black","black","black","black"]},
        "legend": {"title": null, "orient": "none", "legendX": 22, "legendY": 2, "symbolSize": 100, "symbolStrokeWidth": 1, "labelFontSize": 13, "labelColor": "black", "labelOffset": 9, "rowPadding": 1.5, "padding": 0}}
     }}
   ]
  },
  {
   "width": 291, "height": 206,
   "title": {"text": "F", "anchor": "start", "frame": "group", "dx": -74, "offset": -16.5, "baseline": "alphabetic", "fontSize": 18, "fontWeight": "bold"},
   "layer": [
    {"data": {"name": "F"}, "mark": {"type": "line", "color": "black", "strokeWidth": 1},
     "encoding": {
      "x": {"field": "d", "type": "quantitative", "title": "Time (days)", "scale": {"domain": [0, 50], "nice": false}, "axis": {"values": [0,10,20,30,40,50], "tickCount": 20, "format": "d", "titlePadding": 5, "labelOverlap": false}},
      "y": {"field": "v", "type": "quantitative", "title": "Hyp/DNA (ug/ug)", "scale": {"domain": [-0.5, 3], "nice": false, "zero": false}, "axis": {"values": [-0.5,0,0.5,1,1.5,2,2.5,3], "tickCount": 20, "labelExpr": "replace(format(datum.value,'.1f'),'\u2212','-')", "titlePadding": 20, "labelOverlap": false}},
      "detail": {"field": "s"}
     }},
    {"data": {"name": "F"}, "mark": {"type": "rule", "color": "black", "strokeWidth": 1.2},
     "encoding": {"x": {"field": "d", "type": "quantitative"}, "y": {"field": "lo", "type": "quantitative"}, "y2": {"field": "hi"}}},
    {"data": {"name": "F"}, "transform": [{"fold": ["lo", "hi"], "as": ["e", "ev"]}], "mark": {"type": "tick", "orient": "horizontal", "size": 8, "thickness": 1.5, "color": "black"},
     "encoding": {"x": {"field": "d", "type": "quantitative"}, "y": {"field": "ev", "type": "quantitative"}}},
    {"data": {"name": "F"}, "transform": [{"filter": "datum.s=='HAB + 0 HA'"}], "mark": {"type": "point", "shape": "circle", "filled": true, "fill": "black", "stroke": "black", "strokeWidth": 1, "opacity": 1, "size": 28},
     "encoding": {"x": {"field": "d", "type": "quantitative"}, "y": {"field": "v", "type": "quantitative"}}},
    {"data": {"name": "F"}, "transform": [{"filter": "datum.s=='HAB + 5 mg/ml HA'"}], "mark": {"type": "point", "shape": "circle", "filled": true, "fill": "white", "stroke": "black", "strokeWidth": 1, "opacity": 1, "size": 28},
     "encoding": {"x": {"field": "d", "type": "quantitative"}, "y": {"field": "v", "type": "quantitative"}}},
    {"data": {"name": "F"}, "transform": [{"filter": "datum.s=='PEG + 0 HA'"}], "mark": {"type": "point", "shape": "triangle-down", "filled": true, "fill": "black", "stroke": "black", "strokeWidth": 1, "opacity": 1, "size": 36},
     "encoding": {"x": {"field": "d", "type": "quantitative"}, "y": {"field": "v", "type": "quantitative"}}},
    {"data": {"name": "F"}, "transform": [{"filter": "datum.s=='PEG + 5 mg/ml HA'"}], "mark": {"type": "point", "shape": "triangle-up", "filled": true, "fill": "white", "stroke": "black", "strokeWidth": 1, "opacity": 1, "size": 36},
     "encoding": {"x": {"field": "d", "type": "quantitative"}, "y": {"field": "v", "type": "quantitative"}}},
    {"data": {"name": "F"}, "transform": [{"filter": "false"}], "mark": {"type": "point", "filled": true, "opacity": 1},
     "encoding": {
      "x": {"field": "d", "type": "quantitative"},
      "y": {"field": "v", "type": "quantitative"},
      "shape": {"field": "s", "type": "nominal", "scale": {"domain": ["HAB + 0 HA","HAB + 5 mg/ml HA","PEG + 0 HA","PEG + 5 mg/ml HA"], "range": ["M-2.2,0H2.2M0.5,0A0.5,0.5,0,1,1,-0.5,0A0.5,0.5,0,1,1,0.5,0Z","M-2.2,0H-0.5M0.5,0H2.2M0.5,0A0.5,0.5,0,1,1,-0.5,0A0.5,0.5,0,1,1,0.5,0Z","M-2.2,0H2.2M-0.65,-0.45H0.65L0,0.65Z","M-2.2,0H-0.45M0.45,0H2.2M-0.65,0.45H0.65L0,-0.65Z"]},
        "legend": {"title": null, "orient": "none", "legendX": 12, "legendY": 5, "symbolSize": 100, "symbolStrokeWidth": 1, "labelFontSize": 13, "labelColor": "black", "labelOffset": 9, "rowPadding": 1.5, "padding": 0}},
      "fill": {"field": "s", "type": "nominal", "scale": {"domain": ["HAB + 0 HA","HAB + 5 mg/ml HA","PEG + 0 HA","PEG + 5 mg/ml HA"], "range": ["black","white","black","white"]},
        "legend": {"title": null, "orient": "none", "legendX": 12, "legendY": 5, "symbolSize": 100, "symbolStrokeWidth": 1, "labelFontSize": 13, "labelColor": "black", "labelOffset": 9, "rowPadding": 1.5, "padding": 0}},
      "stroke": {"field": "s", "type": "nominal", "scale": {"domain": ["HAB + 0 HA","HAB + 5 mg/ml HA","PEG + 0 HA","PEG + 5 mg/ml HA"], "range": ["black","black","black","black"]},
        "legend": {"title": null, "orient": "none", "legendX": 12, "legendY": 5, "symbolSize": 100, "symbolStrokeWidth": 1, "labelFontSize": 13, "labelColor": "black", "labelOffset": 9, "rowPadding": 1.5, "padding": 0}}
     }}
   ]
  }
 ],
 "config": {
  "font": "Liberation Sans",
  "view": {"stroke": null},
  "axis": {"grid": false, "domainColor": "black", "domainWidth": 1, "tickColor": "black", "tickWidth": 1, "tickSize": 4, "labelColor": "black", "titleColor": "black", "labelFont": "Liberation Sans", "titleFont": "Liberation Sans", "labelFontSize": 13, "titleFontSize": 14, "titleFontWeight": "normal", "labelPadding": 2, "labelOverlap": false},
  "legend": {"labelFont": "Liberation Sans"},
  "text": {"color": "black", "font": "Liberation Sans"},
  "title": {"font": "Liberation Sans", "color": "black"}
 }
}
